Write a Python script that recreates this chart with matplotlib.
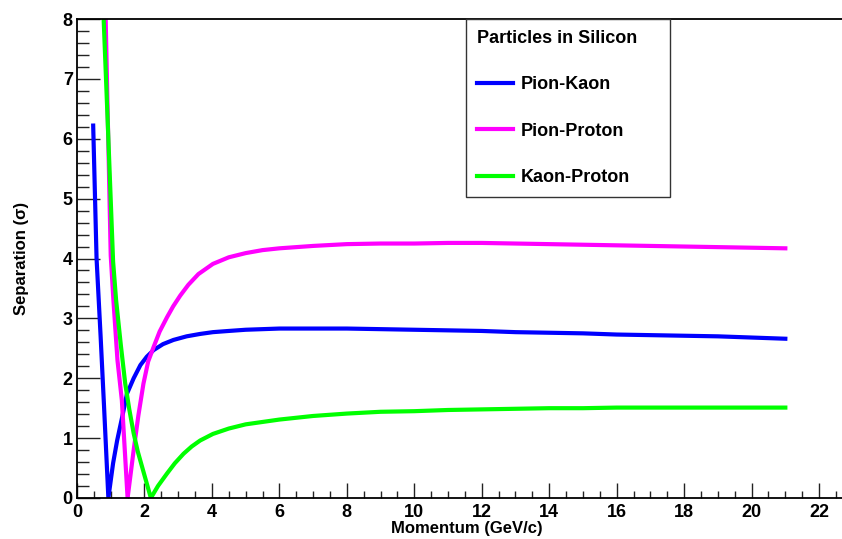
#!/usr/bin/env python3
"""Separation power of particle pairs in silicon vs. momentum."""
from __future__ import annotations

import matplotlib

matplotlib.use("Agg")
import matplotlib.pyplot as plt
from matplotlib import font_manager
from matplotlib.ticker import MultipleLocator


# momentum (GeV/c) and separation (sigma)
pion_kaon_p = [0.48, 0.58, 0.70, 0.80, 0.93, 1.07, 1.19, 1.35, 1.48, 1.68, 1.88, 2.07,
               2.27, 2.55, 2.86, 3.25, 3.65, 4.03, 4.5, 5.0, 5.5, 6.0, 7.0, 8.0, 9.0,
               10.0, 11.0, 12.0, 13.0, 14.0, 15.0, 16.0, 17.0, 18.0, 19.0, 20.0, 21.0]
pion_kaon_sep = [6.22, 4.0, 2.7, 1.55, 0.0, 0.58, 0.96, 1.38, 1.74, 2.0, 2.22, 2.36,
                 2.47, 2.57, 2.64, 2.70, 2.74, 2.77, 2.79, 2.81, 2.82, 2.83, 2.83, 2.83, 2.82,
                 2.81, 2.80, 2.79, 2.77, 2.76, 2.75, 2.73, 2.72, 2.71, 2.70, 2.68, 2.66]

pion_proton_p = [0.85, 1.0, 1.08, 1.2, 1.33, 1.5, 1.68, 1.82, 1.97, 2.11, 2.27, 2.45,
                 2.67, 2.85, 3.06, 3.3, 3.6, 4.03, 4.5, 5.0, 5.5, 6.0, 7.0, 8.0, 9.0, 10.0,
                 11.0, 12.0, 13.0, 14.0, 15.0, 16.0, 17.0, 18.0, 19.0, 20.0, 21.0]
pion_proton_sep = [8.0, 4.05, 3.3, 2.3, 1.63, 0.0, 0.8, 1.38, 1.91, 2.28, 2.52, 2.78,
                   3.02, 3.2, 3.38, 3.56, 3.74, 3.91, 4.02, 4.09, 4.14, 4.17, 4.21, 4.24, 4.25,
                   4.25, 4.26, 4.26, 4.25, 4.24, 4.23, 4.22, 4.21, 4.20, 4.19, 4.18, 4.17]

kaon_proton_p = [0.79, 0.93, 1.07, 1.16, 1.3, 1.43, 1.55, 1.68, 1.8, 1.93, 2.06, 2.19,
                 2.4, 2.67, 2.9, 3.16, 3.4, 3.65, 4.03, 4.5, 5.0, 5.5, 6.0, 7.0, 8.0, 9.0,
                 10.0, 11.0, 12.0, 13.0, 14.0, 15.0, 16.0, 17.0, 18.0, 19.0, 20.0, 21.0]
kaon_proton_sep = [8.0, 6.0, 3.95, 3.3, 2.55, 1.91, 1.48, 1.08, 0.78, 0.52, 0.26, 0.0,
                   0.2, 0.41, 0.58, 0.74, 0.86, 0.96, 1.07, 1.16, 1.23, 1.27, 1.31, 1.37, 1.41,
                   1.44, 1.45, 1.47, 1.48, 1.49, 1.50, 1.50, 1.51, 1.51, 1.51, 1.51, 1.51, 1.51]

labels = ["Pion-Kaon", "Pion-Proton", "Kaon-Proton"]
colors = ["#0000ff", "#ff00ff", "#00ff00"]

installed = {f.name for f in font_manager.fontManager.ttflist}
FAMILY = [n for n in ["Liberation Sans Narrow", "Liberation Sans", "DejaVu Sans"] if n in installed]
plt.rcParams["font.family"] = FAMILY
plt.rcParams["font.weight"] = "bold"


def main() -> None:
    W, H = 842, 539
    fig = plt.figure(figsize=(W / 100, H / 100), dpi=100)
    # frame: x from 77 px to the right edge, y from 19 px to 498 px
    ax = fig.add_axes([77 / W, (H - 498) / H, (W - 77) / W, (498 - 19) / H])

    series = [
        (pion_kaon_p, pion_kaon_sep),
        (pion_proton_p, pion_proton_sep),
        (kaon_proton_p, kaon_proton_sep),
    ]
    for (p, sep), label, color in zip(series, labels, colors):
        ax.plot(p, sep, color=color, lw=3.0, label=label, solid_joinstyle="round")

    ax.set_xlim(0, 22.68)
    ax.set_ylim(0, 8)
    ax.xaxis.set_major_locator(MultipleLocator(2))
    ax.xaxis.set_minor_locator(MultipleLocator(0.5))
    ax.yaxis.set_major_locator(MultipleLocator(1))
    ax.yaxis.set_minor_locator(MultipleLocator(0.2))

    ax.spines["right"].set_visible(False)
    for side in ("left", "bottom", "top"):
        ax.spines[side].set_linewidth(1.3)

    ax.tick_params(which="both", direction="in", top=False, right=False,
                   labelsize=13, width=1.0, color="#222222")
    ax.tick_params(axis="x", which="major", length=10.8, pad=4)
    ax.tick_params(axis="x", which="minor", length=5.0)
    ax.tick_params(axis="y", which="major", length=16.6, pad=3)
    ax.tick_params(axis="y", which="minor", length=8.4)
    for lab in ax.get_xticklabels() + ax.get_yticklabels():
        lab.set_fontweight("bold")

    fig.text(467 / W, 1 - 529 / H, "Momentum (GeV/c)", ha="center", va="center",
             fontsize=12, fontweight="bold")
    fig.text(22 / W, 1 - 258 / H, "Separation (\u03c3)", ha="center", va="center",
             rotation=90, fontsize=12, fontweight="bold")

    # legend box spans 466..670 px horizontally, hanging from the top frame line
    span = W - 77
    leg = ax.legend(title="Particles in Silicon", loc="upper left", mode="expand",
                    bbox_to_anchor=((466 - 77) / span, 0.0, (670 - 466) / span, 1.0),
                    fontsize=13, title_fontproperties={"size": 13, "weight": "bold"},
                    frameon=True, fancybox=False, framealpha=1.0, edgecolor="#333333",
                    borderpad=0.6, labelspacing=1.63, handlelength=2.0, handletextpad=0.45,
                    borderaxespad=0.0, alignment="left")
    leg.get_frame().set_linewidth(1.0)
    for line in leg.get_lines():
        line.set_linewidth(3.0)

    fig.savefig("out.png", dpi=100)
    plt.close(fig)


if __name__ == "__main__":
    main()
